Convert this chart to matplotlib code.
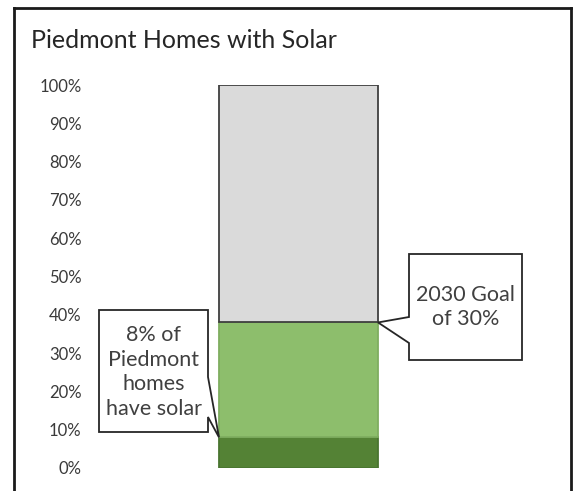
import matplotlib
matplotlib.use("Agg")
from matplotlib import pyplot as plt
from matplotlib.patches import Polygon
from matplotlib.lines import Line2D

# Share of Piedmont homes, stacked bottom to top
segments = ["Have solar", "2030 goal", "Remaining"]
shares = [8, 30, 62]
colors = ["#548235", "#8DBE6C", "#DADADA"]
edges = ["#4A7530", "#7FAE60", "#3F3F3F"]
yticks = [0, 10, 20, 30, 40, 50, 60, 70, 80, 90, 100]
ytick_labels = ["%d%%" % t for t in yticks]

title = "Piedmont Homes with Solar"
note_now = "8% of\nPiedmont\nhomes\nhave solar"
note_goal = "2030 Goal\nof 30%"

W, H = 576, 491
plt.rcParams['font.family'] = ['Lato', 'DejaVu Sans']

fig = plt.figure(figsize=(W / 100, H / 100), dpi=100)
fig.patch.set_facecolor("white")


def fx(px):
    return px / W


def fy(py):
    # pixel rows counted from the top
    return 1 - py / H


# axes spans 90..560 px across, 85..468 px down
ax_left, ax_right, ax_top, ax_bot = 90, 560, 85, 468
ax = fig.add_axes([fx(ax_left), fy(ax_bot), fx(ax_right - ax_left), (ax_bot - ax_top) / H])

bar_left_px, bar_w_px = 219, 159
unit = bar_w_px
ax.set_xlim(-(bar_left_px + bar_w_px / 2 - ax_left) / unit,
            (ax_right - bar_left_px - bar_w_px / 2) / unit)
ax.set_ylim(0, 100)

bottom = 0
for name, val, c, e in zip(segments, shares, colors, edges):
    ax.bar(0, val, width=1, bottom=bottom, color=c, edgecolor=e, linewidth=1.3, label=name)
    bottom += val

ax.set_yticks(yticks)
ax.set_yticklabels(ytick_labels, fontsize=12, color="#3a3a3a")
ax.tick_params(axis="y", length=0, pad=6)
ax.set_xticks([])
for s in ax.spines.values():
    s.set_visible(False)

# outer frame (open at the bottom)
frame = dict(color="#1a1a1a", linewidth=2, transform=fig.transFigure)
fig.add_artist(Line2D([fx(14), fx(14)], [fy(8), 0], **frame))
fig.add_artist(Line2D([fx(14), fx(571)], [fy(8), fy(8)], **frame))
fig.add_artist(Line2D([fx(571), fx(571)], [fy(8), 0], **frame))

fig.text(fx(31), fy(48), title, fontsize=18, color="#262626", va="baseline", ha="left")


def tip(x, y):
    # data point -> figure fraction
    disp = ax.transData.transform((x, y))
    return tuple(fig.transFigure.inverted().transform(disp))


fig.canvas.draw()
left_tip = tip(-0.5, shares[0])
right_tip = tip(0.5, shares[0] + shares[1])

# callout for the current share, pointer off the right side
b1 = (99, 310, 208, 432)
pts1 = [(fx(b1[0]), fy(b1[1])), (fx(b1[2]), fy(b1[1])), (fx(b1[2]), fy(377)),
        left_tip, (fx(b1[2]), fy(417)), (fx(b1[2]), fy(b1[3])), (fx(b1[0]), fy(b1[3]))]
fig.add_artist(Polygon(pts1, closed=True, facecolor="white", edgecolor="#262626",
                       linewidth=1.3, transform=fig.transFigure, zorder=5))
fig.text(fx((b1[0] + b1[2]) / 2), fy((b1[1] + b1[3]) / 2 + 1), note_now, fontsize=15.5,
         color="#404040", ha="center", va="center", linespacing=1.3, zorder=6)

# callout for the 2030 goal, pointer off the left side
b2 = (409, 254, 522, 360)
pts2 = [(fx(b2[0]), fy(b2[1])), (fx(b2[2]), fy(b2[1])), (fx(b2[2]), fy(b2[3])),
        (fx(b2[0]), fy(b2[3])), (fx(b2[0]), fy(343)), right_tip, (fx(b2[0]), fy(317))]
fig.add_artist(Polygon(pts2, closed=True, facecolor="white", edgecolor="#262626",
                       linewidth=1.3, transform=fig.transFigure, zorder=5))
fig.text(fx((b2[0] + b2[2]) / 2), fy((b2[1] + b2[3]) / 2), note_goal, fontsize=15.5,
         color="#404040", ha="center", va="center", linespacing=1.2, zorder=6)

fig.savefig("out.png", dpi=100)
